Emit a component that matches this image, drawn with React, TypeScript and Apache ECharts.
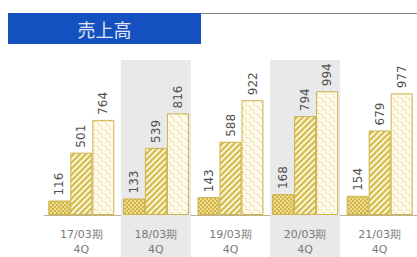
import React, { useEffect, useRef } from "react";
import * as echarts from "echarts";

const categories = ["17/03期", "18/03期", "19/03期", "20/03期", "21/03期"];
const quarterLabels = ["4Q", "4Q", "4Q", "4Q", "4Q"];
const series1 = [116, 133, 143, 168, 154];
const series2 = [501, 539, 588, 794, 679];
const series3 = [764, 816, 922, 994, 977];
const shadedBands = ["-", 1, "-", 1, "-"];
const titleText = "売上高";

function makePattern(w: number, h: number, draw: (c: CanvasRenderingContext2D) => void) {
  const cv = document.createElement("canvas");
  cv.width = w;
  cv.height = h;
  const ctx = cv.getContext("2d")!;
  draw(ctx);
  return { image: cv.toDataURL(), repeat: "repeat", imageWidth: w, imageHeight: h } as any;
}

export default function App() {
  const ref = useRef<HTMLDivElement>(null);
  useEffect(() => {
    if (!ref.current) return;
    const chart = echarts.init(ref.current, null, { renderer: "svg" });

    const checker = makePattern(4, 4, (c) => {
      c.fillStyle = "#eedb92";
      c.fillRect(0, 0, 4, 4);
      c.fillStyle = "#d3b446";
      c.fillRect(0, 0, 2, 2);
      c.fillRect(2, 2, 2, 2);
    });
    const stripes = makePattern(6, 6, (c) => {
      c.fillStyle = "#fefbe6";
      c.fillRect(0, 0, 6, 6);
      c.strokeStyle = "#d6c056";
      c.lineWidth = 2.6;
      c.beginPath();
      c.moveTo(-1, 7);
      c.lineTo(7, -1);
      c.moveTo(-4, 4);
      c.lineTo(4, -4);
      c.moveTo(2, 10);
      c.lineTo(10, 2);
      c.stroke();
    });
    const dots = makePattern(8, 8, (c) => {
      c.fillStyle = "#fefae6";
      c.fillRect(0, 0, 8, 8);
      c.fillStyle = "#c6b47a";
      c.fillRect(1, 2, 1, 1);
      c.fillRect(5, 6, 1, 1);
      c.fillRect(6, 1, 1, 1);
      c.fillRect(3, 4, 1, 1);
    });

    const border = { borderColor: "#cdb24a", borderWidth: 1 };
    const label = {
      show: true,
      position: "top",
      rotate: 90,
      distance: 5,
      align: "left",
      verticalAlign: "middle",
      fontSize: 12,
      color: "#505050",
      fontFamily: "DejaVu Sans",
    };

    chart.setOption({
      animation: false,
      grid: [
        { left: 44, width: 376, top: 90.5, bottom: 38 },
        { left: 44, width: 376, top: 60, bottom: 0 },
      ],
      xAxis: [
        {
          type: "category",
          gridIndex: 0,
          data: categories,
          axisTick: { show: false },
          axisLine: { lineStyle: { color: "#bdb28c", width: 1 } },
          axisLabel: {
            margin: 12,
            color: "#7a7a7a",
            fontSize: 11,
            lineHeight: 15,
            fontFamily: "DejaVu Sans",
            formatter: (v: string, i: number) => v + "\n" + quarterLabels[i],
          },
        },
        { type: "category", gridIndex: 1, data: categories, show: false },
      ],
      yAxis: [
        { type: "value", gridIndex: 0, min: 0, max: 1000, show: false },
        { type: "value", gridIndex: 1, min: 0, max: 1, show: false },
      ],
      graphic: [
        { type: "rect", shape: { x: 8, y: 13, width: 193, height: 31 }, style: { fill: "#1550c0" } },
        {
          type: "text",
          x: 104.5,
          y: 29,
          style: {
            text: titleText,
            align: "center",
            verticalAlign: "middle",
            fill: "#e2e6f2",
            font: '18px "Noto Sans CJK JP"',
          },
        },
        {
          type: "line",
          shape: { x1: 201, y1: 13.5, x2: 417, y2: 13.5 },
          style: { stroke: "#8a8a8a", lineWidth: 1 },
        },
      ],
      series: [
        {
          type: "bar",
          xAxisIndex: 1,
          yAxisIndex: 1,
          data: shadedBands,
          barWidth: 70,
          itemStyle: { color: "#e9e9ea" },
          silent: true,
          z: 0,
        },
        {
          type: "bar",
          data: series1,
          barWidth: 22,
          barGap: "0%",
          itemStyle: { color: checker, ...border },
          label,
          z: 3,
        },
        {
          type: "bar",
          data: series2,
          barWidth: 22,
          barGap: "0%",
          itemStyle: { color: stripes, ...border },
          label,
          z: 3,
        },
        {
          type: "bar",
          data: series3,
          barWidth: 22,
          barGap: "0%",
          itemStyle: { color: dots, ...border },
          label,
          z: 3,
        },
      ],
    });
    return () => chart.dispose();
  }, []);
  return <div ref={ref} style={{ position: "absolute", left: 0, top: 0, width: 417, height: 257 }} />;
}
